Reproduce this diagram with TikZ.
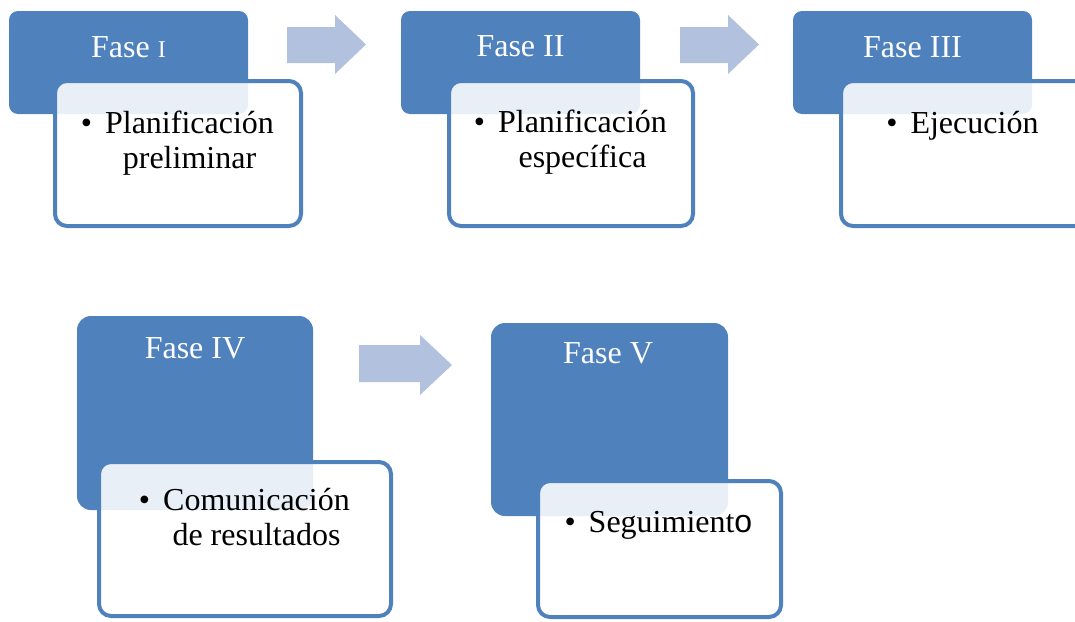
\documentclass[tikz,border=0pt]{standalone}
\usepackage{fontspec}
\setmainfont{Liberation Serif}
\newfontfamily\altsans{Liberation Sans}
\definecolor{faseblue}{HTML}{4F81BD}
\definecolor{arrowblue}{HTML}{B1C1DE}
\newcommand{\bul}{\llap{\textbullet\hspace{13pt}}}
\begin{document}
\begin{tikzpicture}[x=1pt,y=-1pt,
  phase/.style={fill=faseblue, draw=none, rounded corners=9pt, inner sep=0pt},
  bigphase/.style={phase, rounded corners=14pt},
  detail/.style={draw=faseblue, line width=4pt, fill=white, fill opacity=0.88, draw opacity=1, rounded corners=12pt, inner sep=0pt},
  flow/.style={fill=arrowblue, draw=none},
  phasetext/.style={text=white, font=\fontsize{32}{35}\selectfont, anchor=base, inner sep=0pt},
  bodytext/.style={text=black, font=\fontsize{32}{35}\selectfont, anchor=base, align=center, inner sep=0pt},
]
\useasboundingbox (0,0) rectangle (1075,621);
\clip (0,0) rectangle (1075,621);
% arrows
\fill[flow] (287,27) -- (335,27) -- (335,15) -- (366,44.5) -- (335,74) -- (335,63) -- (287,63) -- cycle;
\fill[flow] (680,27) -- (728,27) -- (728,15) -- (759,44.5) -- (728,74) -- (728,63) -- (680,63) -- cycle;
\fill[flow] (359,345) -- (420,345) -- (420,335) -- (452,365) -- (420,395) -- (420,382) -- (359,382) -- cycle;
% phase boxes
\node[phase, minimum width=239pt, minimum height=103pt] (p1) at (128.5,62.5) {};
\node[phase, minimum width=239pt, minimum height=103pt] (p2) at (520.5,62.5) {};
\node[phase, minimum width=239pt, minimum height=103pt] (p3) at (912.5,62.5) {};
\node[bigphase, minimum width=236pt, minimum height=194pt] (p4) at (195,413) {};
\node[bigphase, minimum width=237pt, minimum height=193pt] (p5) at (609.5,419.5) {};
% detail boxes
\node[detail, minimum width=246pt, minimum height=145pt] (d1) at (178,153.5) {};
\node[detail, minimum width=244pt, minimum height=145pt] (d2) at (571,153.5) {};
\node[detail, minimum width=250pt, minimum height=145pt] (d3) at (966,153.5) {};
\node[detail, minimum width=292pt, minimum height=154pt] (d4) at (245,539) {};
\node[detail, minimum width=243pt, minimum height=136pt] (d5) at (659.5,549) {};
% phase titles
\node[phasetext] (t1) at (128.5,57) {Fase {\fontsize{24}{28}\selectfont I}};
\node[phasetext] (t2) at (520.5,56) {Fase II};
\node[phasetext] (t3) at (912.5,57) {Fase III};
\node[phasetext] (t4) at (195,358) {Fase IV};
\node[phasetext] (t5) at (608,363) {Fase V};
% details (base anchor = last line of a two-line node)
\node[bodytext] (b1) at (189.5,168) {\bul Planificación\\preliminar};
\node[bodytext] (b2) at (582.5,167) {\bul Planificación\\específica};
\node[bodytext] (b3) at (974.5,133) {\bul Ejecución};
\node[bodytext] (b4) at (256.5,545) {\bul Comunicación\\de resultados};
\node[bodytext] (b5) at (670.5,532) {\bul Seguimient{\altsans o}};
\end{tikzpicture}
\end{document}
